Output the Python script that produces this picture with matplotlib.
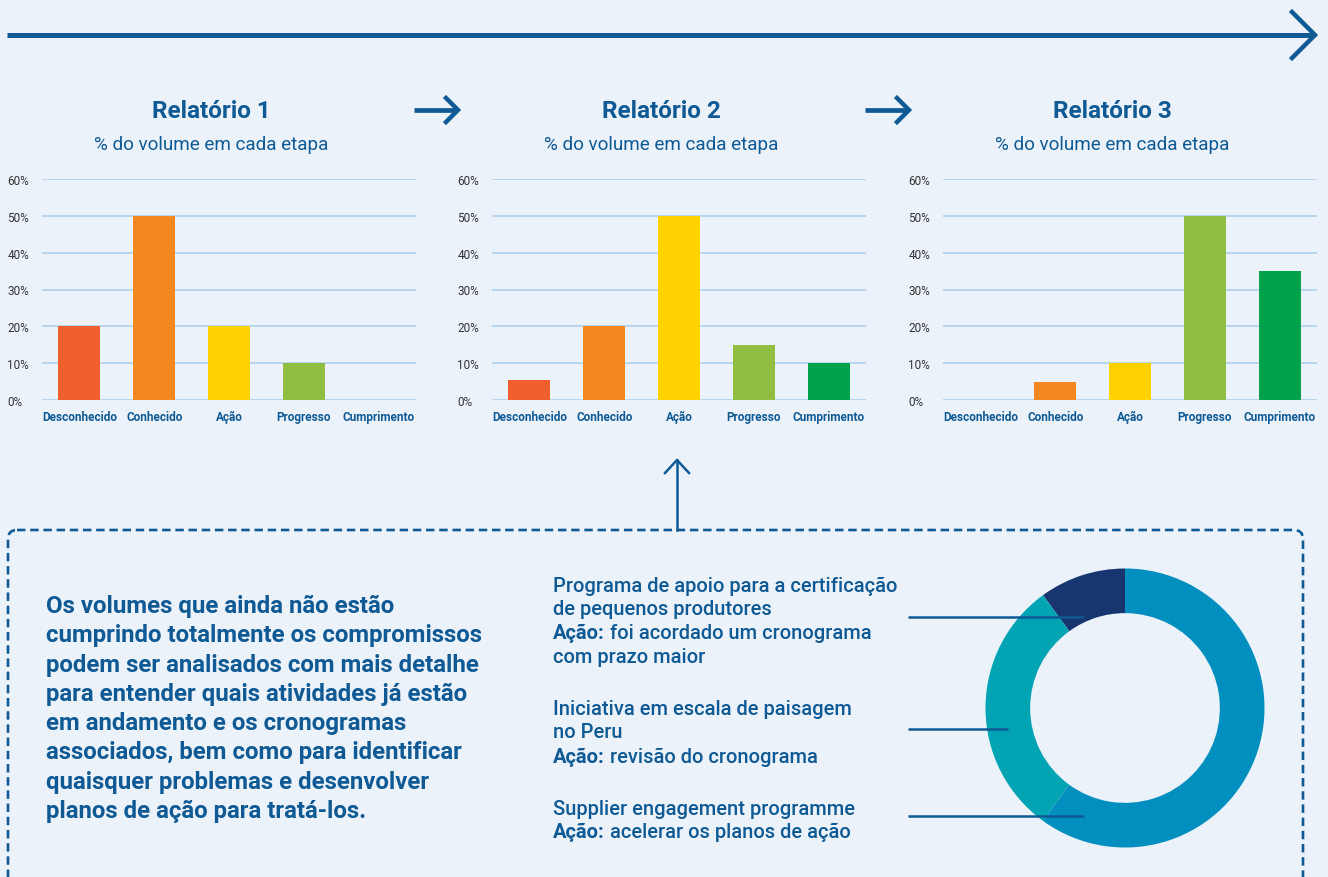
import matplotlib
matplotlib.use("Agg")
import matplotlib.pyplot as plt
from matplotlib.patches import FancyBboxPatch

plt.rcParams['font.family'] = ['Roboto', 'DejaVu Sans']

# ---- data ----
stages = ["Desconhecido", "Conhecido", "Ação", "Progresso", "Cumprimento"]
report_titles = ["Relatório 1", "Relatório 2", "Relatório 3"]
report1 = [20, 50, 20, 10, 0]
report2 = [5.5, 20, 50, 15, 10]
report3 = [0, 5, 10, 50, 35]
yticks = [0, 10, 20, 30, 40, 50, 60]
ytick_labels = ["0%", "10%", "20%", "30%", "40%", "50%", "60%"]

initiatives = ["Programa de apoio para a certificação de pequenos produtores",
               "Iniciativa em escala de paisagem no Peru",
               "Supplier engagement programme"]
initiative_share = [10, 30, 60]

# ---- style ----
BG = "#ebf2fa"
BLUE = "#0f5a94"
GRID = "#a9d0ec"
stage_colors = ["#f15f2e", "#f58720", "#ffd200", "#8fbe40", "#00a14b"]
donut_colors = ["#173670", "#00a4b2", "#008fbf"]

W, H = 1328, 878
fig = plt.figure(figsize=(W / 100, H / 100), dpi=100, facecolor=BG)

def px_axes(left, top, right, bottom):
    return fig.add_axes([left / W, 1 - bottom / H, (right - left) / W, (bottom - top) / H])

# ---- bar charts ----
chart_lefts = [42, 492, 943]
for left, title, vals in zip(chart_lefts, report_titles, [report1, report2, report3]):
    ax = px_axes(left, 180, left + 374, 401)
    ax.set_facecolor("none")
    ax.bar(range(len(stages)), vals, width=0.56, color=stage_colors, zorder=3)
    ax.set_xlim(-0.5, len(stages) - 0.5)
    ax.set_ylim(0, 60)
    ax.set_yticks(yticks)
    ax.set_yticklabels(ytick_labels, fontsize=8.5, color="#333333", ha="left")
    ax.set_xticks(range(len(stages)))
    ax.set_xticklabels(stages, fontsize=8.5, color=BLUE, fontweight="bold")
    ax.tick_params(axis="y", length=0, pad=25)
    ax.tick_params(axis="x", length=0, pad=7)
    ax.grid(axis="y", color=GRID, linewidth=1.1, zorder=0)
    for s in ax.spines.values():
        s.set_visible(False)

    cx = (left - 35 + left + 374) / 2
    fig.text(cx / W, 1 - 118 / H, title, ha="center", va="baseline",
             fontsize=17.5, color=BLUE, fontweight="semibold")
    fig.text(cx / W, 1 - 150 / H, "% do volume em cada etapa", ha="center",
             va="baseline", fontsize=13.6, color=BLUE)

# ---- donut ----
dax = px_axes(1125 - 139.5, 709 - 139.5, 1125 + 139.5, 709 + 139.5)
dax.pie(initiative_share, colors=donut_colors, startangle=90, counterclock=True,
        radius=1, wedgeprops=dict(width=0.32, edgecolor="none"))
dax.set_xlim(-1, 1)
dax.set_ylim(-1, 1)
dax.set_aspect("equal")
dax.axis("off")

# ---- overlay in pixel coords ----
ov = fig.add_axes([0, 0, 1, 1], zorder=10)
ov.set_xlim(0, W)
ov.set_ylim(H, 0)
ov.axis("off")
ov.patch.set_alpha(0)

# top arrow
ov.plot([7, 1314], [36, 36], color=BLUE, lw=3.6, solid_capstyle="butt")
ov.plot([1292, 1315, 1292], [13, 36, 59], color=BLUE, lw=3.2, solid_joinstyle="miter")
# arrows between titles
for x0 in [414, 865]:
    ov.plot([x0, x0 + 43], [111, 111], color=BLUE, lw=3.4, solid_capstyle="butt")
    ov.plot([x0 + 32, x0 + 44, x0 + 32], [99, 111, 123], color=BLUE, lw=3.2,
            solid_joinstyle="miter")

# dashed box
box = FancyBboxPatch((8, 531), 1295, 400, boxstyle="round,pad=0,rounding_size=9",
                     fill=False, edgecolor=BLUE, lw=1.9, linestyle=(0, (3.2, 1.8)))
ov.add_patch(box)
# up arrow
ov.plot([677, 677], [531, 461], color=BLUE, lw=1.8)
ov.plot([665, 677, 689], [474, 461, 474], color=BLUE, lw=1.8)

# left paragraph
para = ["Os volumes que ainda não estão",
        "cumprindo totalmente os compromissos",
        "podem ser analisados com mais detalhe",
        "para entender quais atividades já estão",
        "em andamento e os cronogramas",
        "associados, bem como para identificar",
        "quaisquer problemas e desenvolver",
        "planos de ação para tratá-los."]
for i, line in enumerate(para):
    ov.text(46, 613 + 29.3 * i, line, fontsize=17.3, fontweight="bold",
            color=BLUE, va="baseline", ha="left")

# right text block
right_lines = [("", "Programa de apoio para a certificação"),
               ("", "de pequenos produtores"),
               ("Ação:", "foi acordado um cronograma"),
               ("", "com prazo maior"),
               ("", "Iniciativa em escala de paisagem"),
               ("", "no Peru"),
               ("Ação:", "revisão do cronograma"),
               ("", "Supplier engagement programme"),
               ("Ação:", "acelerar os planos de ação")]
right_y = [592, 615, 639, 663, 715, 738, 763, 815, 838]
for (bold, rest), y in zip(right_lines, right_y):
    if bold:
        t = ov.text(553, y, bold, fontsize=14.5, fontweight="bold", color=BLUE,
                    va="baseline", ha="left")
        ov.annotate(rest, xy=(1, 0), xycoords=t, xytext=(5, 0),
                    textcoords="offset pixels", fontsize=14.5, fontweight="medium",
                    color=BLUE, va="bottom", ha="left")
    else:
        ov.text(553, y, rest, fontsize=14.5, fontweight="medium", color=BLUE,
                va="baseline", ha="left")

# leader lines
for y, x1 in zip([618, 730, 817], [1084, 1008, 1084]):
    ov.plot([908, x1], [y, y], color=BLUE, lw=1.8, solid_capstyle="butt")

fig.savefig("out.png", dpi=100, facecolor=BG)
